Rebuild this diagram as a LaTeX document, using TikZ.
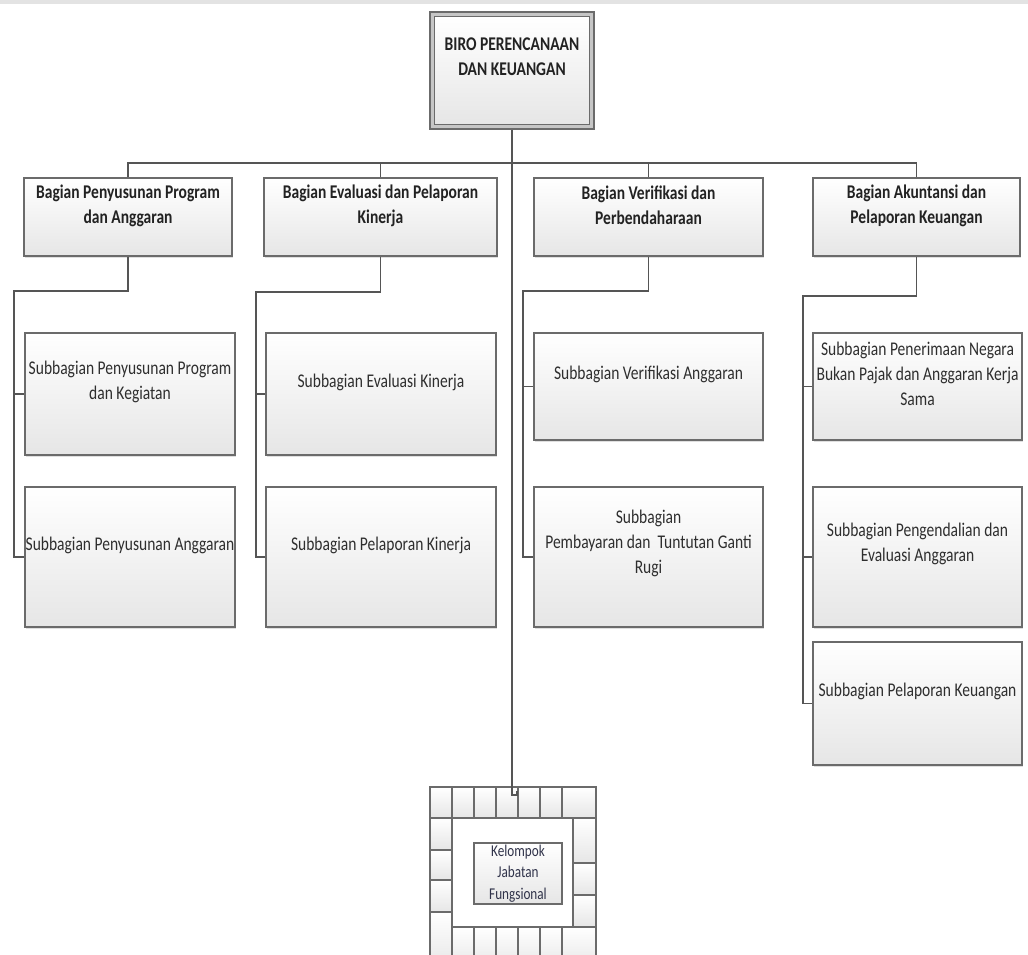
\documentclass[tikz,border=0pt]{standalone}
\usepackage{fontspec}
\setmainfont{Carlito}[FakeStretch=0.8]
\usetikzlibrary{shadows}
\definecolor{boxline}{HTML}{6B6B6B}
\definecolor{boxbot}{HTML}{E6E6E6}
\definecolor{connc}{HTML}{555555}
\definecolor{btxt}{HTML}{222222}
\definecolor{stxt}{HTML}{2E2E2E}
\definecolor{ktxt}{HTML}{30334A}
\tikzset{
  box/.style={rectangle, draw=boxline, line width=1.5pt, top color=white, bottom color=boxbot, inner sep=0pt,
    drop shadow={shadow xshift=1pt, shadow yshift=-1.5pt, opacity=0.25}},
  cell/.style={draw=boxline, line width=1.1pt, top color=white, bottom color=boxbot},
  btext/.style={align=center, text=btxt, font=\fontsize{19.4}{25}\selectfont\bfseries, inner sep=0pt},
  stext/.style={align=center, text=stxt, font=\fontsize{19.4}{25}\selectfont, inner sep=0pt},
  ktext/.style={align=center, text=ktxt, font=\fontsize{16.5}{21.5}\selectfont, inner sep=0pt},
  conn/.style={draw=connc, line width=1.2pt}
}
\begin{document}
\begin{tikzpicture}[x=1pt, y=-1pt]
\clip (0,0) rectangle (1028,955);
\fill[white] (0,0) rectangle (1028,955);
\fill[gray!22] (0,0) rectangle (1028,4);

% ---- top box
\node[rectangle, draw=boxline, line width=1.3pt, fill=gray!45, minimum width=164pt, minimum height=117pt, inner sep=0pt] (top) at (512,70.5) {};
\node[rectangle, draw=boxline, line width=1pt, top color=white, bottom color=boxbot, minimum width=155pt, minimum height=108pt, inner sep=0pt] (topin) at (512,70.5) {};
\node[btext] (topt) at ([yshift=14pt]top.center) {BIRO PERENCANAAN\\DAN KEUANGAN};

% ---- bagian boxes
\node[box, minimum width=208pt, minimum height=78pt] (b1) at (128,217) {};
\node[box, minimum width=233pt, minimum height=78pt] (b2) at (380.5,217) {};
\node[box, minimum width=229pt, minimum height=78pt] (b3) at (648.5,217) {};
\node[box, minimum width=207pt, minimum height=78pt] (b4) at (916.5,217) {};
\node[btext] (b1t) at ([yshift=11.5pt]b1.center) {Bagian Penyusunan Program\\dan Anggaran};
\node[btext] (b2t) at ([yshift=11.5pt]b2.center) {Bagian Evaluasi dan Pelaporan\\Kinerja};
\node[btext] (b3t) at ([yshift=11.5pt]b3.center) {Bagian Verifikasi dan\\Perbendaharaan};
\node[btext] (b4t) at ([yshift=11.5pt]b4.center) {Bagian Akuntansi dan\\Pelaporan Keuangan};

% ---- subbagian boxes
\node[box, minimum width=210pt, minimum height=122pt] (s11) at (130,394) {};
\node[box, minimum width=210pt, minimum height=140pt] (s12) at (130,557) {};
\node[box, minimum width=230pt, minimum height=122pt] (s21) at (381,394) {};
\node[box, minimum width=230pt, minimum height=140pt] (s22) at (381,557) {};
\node[box, minimum width=229pt, minimum height=107pt] (s31) at (648.5,386.5) {};
\node[box, minimum width=229pt, minimum height=140pt] (s32) at (648.5,557) {};
\node[box, minimum width=209pt, minimum height=107pt] (s41) at (917.5,386.5) {};
\node[box, minimum width=209pt, minimum height=140pt] (s42) at (917.5,557) {};
\node[box, minimum width=209pt, minimum height=123pt] (s43) at (917.5,703.5) {};

\node[stext] (s11t) at ([yshift=12pt]s11.center) {Subbagian Penyusunan Program\\dan Kegiatan};
\node[stext] (s12t) at ([yshift=12pt]s12.center) {Subbagian Penyusunan Anggaran};
\node[stext] (s21t) at ([yshift=12pt]s21.center) {Subbagian Evaluasi Kinerja};
\node[stext] (s22t) at ([yshift=12pt]s22.center) {Subbagian Pelaporan Kinerja};
\node[stext] (s31t) at ([yshift=12.5pt]s31.center) {Subbagian Verifikasi Anggaran};
\node[stext] (s32t) at ([yshift=14pt]s32.center) {Subbagian\\Pembayaran dan\ \ Tuntutan Ganti\\Rugi};
\node[stext] (s41t) at ([yshift=12.5pt]s41.center) {Subbagian Penerimaan Negara\\Bukan Pajak dan Anggaran Kerja\\Sama};
\node[stext] (s42t) at ([yshift=13pt]s42.center) {Subbagian Pengendalian dan\\Evaluasi Anggaran};
\node[stext] (s43t) at ([yshift=12.5pt]s43.center) {Subbagian Pelaporan Keuangan};

% ---- Kelompok Jabatan Fungsional frame
\foreach \a/\b in {430/452,452/474,474/496,496/518,518/540,540/562,562/596}
  \draw[cell] (\a,787) rectangle (\b,818);
\foreach \a/\b in {818/850,850/880,880/912,912/970}
  \draw[cell] (430,\a) rectangle (452,\b);
\foreach \a/\b in {818/863,863/895,895/927}
  \draw[cell] (573,\a) rectangle (596,\b);
\foreach \a/\b in {452/474,474/496,496/518,518/540,540/562,562/596}
  \draw[cell] (\a,927) rectangle (\b,970);
\node[rectangle, draw=boxline, line width=1.2pt, top color=white, bottom color=boxbot, minimum width=88pt, minimum height=61pt, inner sep=0pt] (kel) at (518,873.5) {};
\node[ktext] (kelt) at (kel.center) {Kelompok\\Jabatan\\Fungsional};

% ---- connectors
\coordinate (bus) at (512,163);
\coordinate (hook) at (512,795);
\coordinate (t1) at (14,291);
\coordinate (t2) at (256,292);
\coordinate (t3) at (523,291);
\coordinate (t4) at (803,296);

\draw[conn] (top.south) -- (hook) -- ++(5,0) -- ++(0,-4);
\draw[conn] (b1.north) |- (bus) -| (b4.north);
\draw[conn] (b2.north) -- (b2.north |- bus);
\draw[conn] (b3.north) -- (b3.north |- bus);

\draw[conn] (b1.south) |- (t1) |- (s12.west);
\draw[conn] (t1 |- s11.west) -- (s11.west);
\draw[conn] (b2.south) |- (t2) |- (s22.west);
\draw[conn] (t2 |- s21.west) -- (s21.west);
\draw[conn] (b3.south) |- (t3) |- (s32.west);
\draw[conn] (t3 |- s31.west) -- (s31.west);
\draw[conn] (b4.south) |- (t4) |- (s43.west);
\draw[conn] (t4 |- s41.west) -- (s41.west);
\draw[conn] (t4 |- s42.west) -- (s42.west);
\end{tikzpicture}
\end{document}
